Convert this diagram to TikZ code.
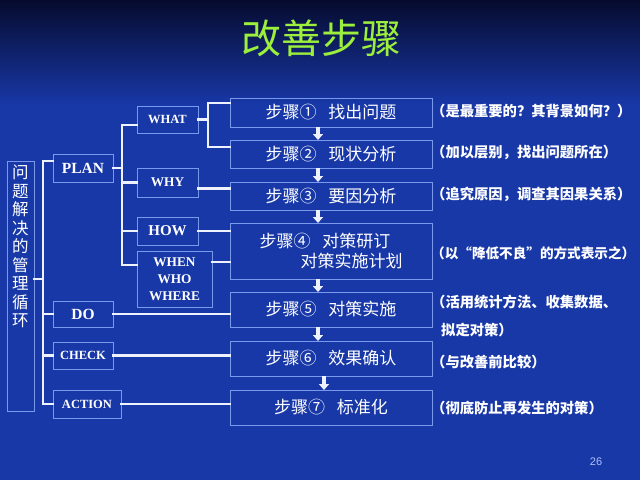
\documentclass[tikz,border=0pt]{standalone}
\usepackage{fontspec}
\setmainfont{Liberation Serif}
\newfontfamily\zhfont{Noto Sans CJK SC}
\newfontfamily\numfont{Liberation Sans}
\usepackage{tikz}
\usetikzlibrary{arrows.meta,positioning}
\definecolor{bgBlue}{HTML}{1838A8}
\definecolor{bgTop}{HTML}{060B2E}
\definecolor{cEdge}{HTML}{7A98EC}
\definecolor{cLink}{HTML}{EEF2FF}
\definecolor{cTitle}{HTML}{9CF03C}

\begin{document}
\begin{tikzpicture}[x=1pt,y=-1pt,
  box/.style={draw=cEdge,line width=1pt,inner sep=0pt,outer sep=0pt,
              text=white,align=center},
  key/.style={box,font=\bfseries\fontsize{15.5}{17}\selectfont,
              minimum width=60pt,minimum height=28pt},
  keysm/.style={key,font=\bfseries\fontsize{12.5}{15}\selectfont},
  keymd/.style={key,font=\bfseries\fontsize{13.3}{17}\selectfont},
  stepbox/.style={box,font=\zhfont\fontsize{17}{20}\selectfont,
                  minimum width=202pt,minimum height=28pt},
  note/.style={anchor=west,inner sep=0pt,text=white,
               font=\zhfont\bfseries\fontsize{14.3}{16}\selectfont},
  link/.style={draw=cLink,line width=2.5pt,line cap=rect},
  stepar/.style={-{Triangle[width=10pt,length=6pt]},draw=cLink,line width=4.5pt},
  ]

  % background
  \fill[bgBlue] (0,0) rectangle (640,480);
  \shade[top color=bgTop,bottom color=bgBlue] (0,0) rectangle (640,105);
  \useasboundingbox (0,0) rectangle (640,480);

  \node[font=\zhfont\fontsize{40}{44}\selectfont,text=cTitle] (title)
    at (321,38) {改善步骤};

  % left column
  \node[box,minimum width=27pt,minimum height=250pt] (loop) at (20.5,286) {};
  \node[below=4pt of loop.north,inner sep=0pt,text=white,align=center,
        font=\zhfont\fontsize{16.5}{18.5}\selectfont] (looptxt)
    {问\\题\\解\\决\\的\\管\\理\\循\\环};

  \node[key] (plan) at (83,168) {PLAN};
  \node[key,minimum height=26pt] (do) at (83,314) {DO};
  \node[keysm,minimum height=27pt] (check) at (83,355.5) {CHECK};
  \node[keysm,minimum width=68pt] (action) at (87,404) {ACTION};

  \node[keysm,minimum width=61pt,minimum height=27pt] (what) at (167.5,119.5) {WHAT};
  \node[keymd,minimum width=61pt,minimum height=29pt] (why) at (167.5,182.5) {WHY};
  \node[key,font=\bfseries\fontsize{15}{17}\selectfont,minimum width=61pt]
    (how) at (167.5,231) {HOW};
  \node[keymd,minimum width=75pt,minimum height=56pt] (when) at (174.5,279)
    {WHEN\\WHO\\WHERE};

  % steps
  \node[stepbox,minimum height=29pt] (s1) at (331,112.5) {步骤①\hspace{12pt}找出问题};
  \node[stepbox,below=13pt of s1] (s2) {步骤②\hspace{12pt}现状分析};
  \node[stepbox,below=14pt of s2] (s3) {步骤③\hspace{12pt}要因分析};
  \node[stepbox,below=13pt of s3,minimum height=56pt,align=left] (s4)
    {步骤④\hspace{12pt}对策研订\\\hspace*{41pt}对策实施计划};
  \node[stepbox,below=13pt of s4,minimum height=35pt] (s5) {步骤⑤\hspace{12pt}对策实施};
  \node[stepbox,below=14pt of s5,minimum height=35pt] (s6) {步骤⑥\hspace{12pt}效果确认};
  \node[stepbox,below=14pt of s6,minimum height=35pt] (s7) {步骤⑦\hspace{12pt}标准化};

  % notes
  \node[note] (n1) at (431,111) {（是最重要的？其背景如何？）};
  \node[note] (n2) at (431,152) {（加以层别，找出问题所在）};
  \node[note] (n3) at (431,194) {（追究原因，调查其因果关系）};
  \node[note,font=\zhfont\bfseries\fontsize{13.6}{16}\selectfont] (n4)
    at (431,253) {（以“降低不良”的方式表示之）};
  \node[note] (n5) at (431,302) {（活用统计方法、收集数据、};
  \node[note] (n5b) at (441,330) {拟定对策）};
  \node[note] (n6) at (431,362) {（与改善前比较）};
  \node[note] (n7) at (431,408) {（彻底防止再发生的对策）};

  \node[font=\numfont\fontsize{11}{13}\selectfont,text=cEdge!60!white] (page)
    at (596,462) {26};

  \coordinate (trunk) at (43,0);
  \coordinate (bar) at (122,0);
  \coordinate (wbar) at (208,0);

  % tree
  \draw[link] ([yshift=7pt]loop.east) -- ([yshift=7pt]loop.east -| trunk);
  \draw[link] ([yshift=7pt]plan.west -| trunk) -- (action.west -| trunk);
  \draw[link] ([yshift=7pt]plan.west) -- ([yshift=7pt]plan.west -| trunk);
  \foreach \k in {do,check,action}
    \draw[link] (\k.west) -- (\k.west -| trunk);

  \draw[link] (plan.east) -- (plan.east -| bar);
  \draw[link] ([yshift=-5.5pt]what.west -| bar) -- ([yshift=14pt]when.west -| bar);
  \draw[link] ([yshift=-5.5pt]what.west) -- ([yshift=-5.5pt]what.west -| bar);
  \draw[link] (why.west) -- (why.west -| bar);
  \draw[link] (how.west) -- (how.west -| bar);
  \draw[link] ([yshift=14pt]when.west) -- ([yshift=14pt]when.west -| bar);

  \draw[link] (what.east) -- (what.east -| wbar);
  \draw[link] ([yshift=9.5pt]s1.west -| wbar) -- ([yshift=7pt]s2.west -| wbar);
  \draw[link] ([yshift=9.5pt]s1.west -| wbar) -- ([yshift=9.5pt]s1.west);
  \draw[link] ([yshift=7pt]s2.west -| wbar) -- ([yshift=7pt]s2.west);

  \draw[link] ([yshift=-6pt]why.east) -- ([yshift=-6pt]why.east -| s3.west);
  \draw[link] (how.east) -- (how.east -| s4.west);
  \draw[link] ([yshift=17pt]when.east) -- ([yshift=17pt]when.east -| s4.west);
  \draw[link] (do.east) -- (do.east -| s5.west);
  \draw[link] (check.east) -- (check.east -| s6.west);
  \draw[link] (action.east) -- (action.east -| s7.west);

  \foreach \a/\b in {s1/s2,s2/s3,s3/s4,s4/s5,s5/s6}
    \draw[stepar] ([xshift=-13pt]\a.south) -- ([xshift=-13pt]\b.north);
  \draw[stepar] ([xshift=-7pt]s6.south) -- ([xshift=-7pt]s7.north);
\end{tikzpicture}
\end{document}
